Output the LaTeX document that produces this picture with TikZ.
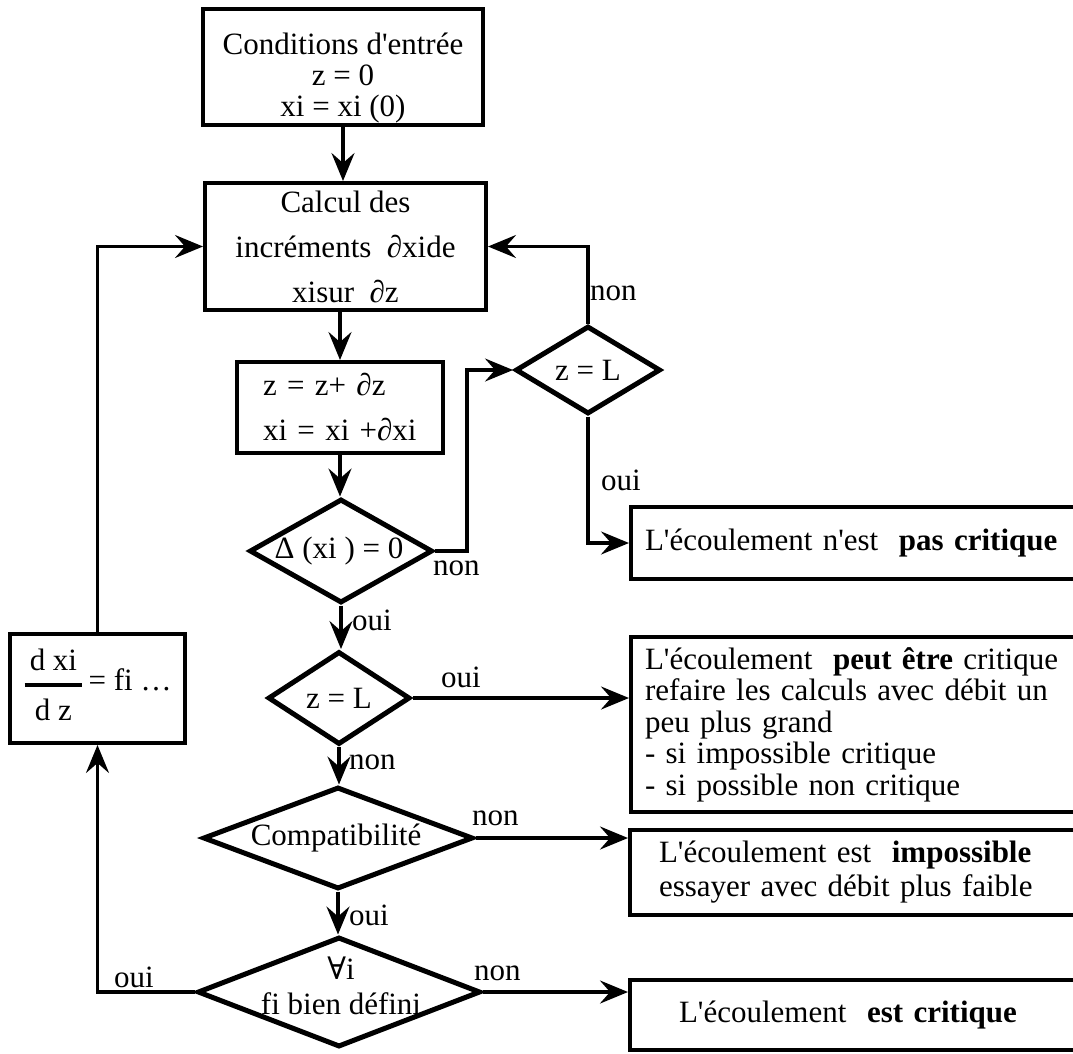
\documentclass[tikz,border=0pt]{standalone}
\usepackage{amsmath}
\usepackage{fontspec}
\setmainfont{Liberation Serif}
\newfontfamily\symfnt{DejaVu Serif}
\usetikzlibrary{shapes.geometric,arrows.meta}
\newcommand\ap{\textquotesingle}
\begin{document}
\begin{tikzpicture}[x=1pt,y=-1pt,
  every node/.style={font=\fontsize{31}{31}\selectfont},
  box/.style={draw,line width=4pt,inner sep=0pt},
  rbox/.style={draw,line width=4pt,anchor=north west,align=left,inner ysep=0pt},
  dia/.style={draw,diamond,line width=5pt,inner sep=0pt},
  lab/.style={anchor=west,inner sep=0pt},
  conn/.style={line width=3.2pt},
  arr/.style={conn,-{Stealth[length=28pt,width=23pt,inset=10pt]}}]
\useasboundingbox (0,0) rectangle (1073,1053);
\clip (0,0) rectangle (1073,1053);

% boxes of the main column
\node[box,minimum width=280pt,minimum height=116pt,align=center,font=\fontsize{31}{31}\selectfont] (b1) at (343,67)
  {\rule{0pt}{44pt}Conditions d\ap entrée\\z = 0\\xi = xi (0)};
\node[box,minimum width=281pt,minimum height=127pt,align=center,font=\fontsize{31}{45}\selectfont] (b2) at (345.5,246.5)
  {Calcul des\\incréments~ ∂xide\\xisur~ ∂z};
\node[box,minimum width=206pt,minimum height=91pt,inner xsep=26pt,text width=154pt,align=left,font=\fontsize{31}{45}\selectfont] (b3) at (340,407.5)
  {z = z+ ∂z\\xi = xi +∂xi};

% decisions
\node[dia,minimum width=145pt,minimum height=88pt] (d1) at (588,370) {};
\node (t1) at (588,370) {z = L};
\node[dia,minimum width=183pt,minimum height=104pt] (dD) at (341,551) {};
\node (tD) at (339,551) {Δ (xi ) = 0};
\node[dia,minimum width=142pt,minimum height=93pt] (d2) at (339,698) {};
\node (t2) at (339,698) {z = L};
\node[dia,minimum width=270pt,minimum height=102pt] (dC) at (338,838) {};
\node (tC) at (336,838) {Compatibilité};
\node[dia,minimum width=283pt,minimum height=110pt] (dA) at (339,992) {};
\node[align=center,font=\fontsize{31}{35}\selectfont] (tA) at (341,986) {{\symfnt ∀}i\\fi bien défini};

% side box
\node[box,minimum width=175pt,minimum height=109pt] (fr) at (97.5,688.5)
  {$\genfrac{}{}{4pt}{0}{\mbox{\,d xi\,}}{\raisebox{8pt}[0pt][0pt]{d z}}$\,= fi …};

% result boxes
\node[rbox,minimum width=451pt,minimum height=72pt,inner xsep=14pt,text width=423pt] (pc) at (629,505)
  {L\ap écoulement n\ap est~ \textbf{pas critique}};
\node[rbox,minimum width=451pt,minimum height=175pt,inner xsep=14pt,text width=423pt,font=\fontsize{31}{31.5}\selectfont] (pe) at (629,635)
  {L\ap écoulement~ \textbf{peut être} critique\\refaire les calculs avec débit un\\peu plus grand\\- si impossible critique\\- si possible non critique};
\node[rbox,minimum width=452pt,minimum height=85pt,inner xsep=29pt,text width=394pt,font=\fontsize{31}{34}\selectfont] (im) at (628,828)
  {L\ap écoulement est~ \textbf{impossible}\\essayer avec débit plus faible};
\node[rbox,minimum width=452pt,minimum height=70pt,inner xsep=49pt,text width=354pt] (ec) at (628,978)
  {L\ap écoulement~ \textbf{est critique}};

% connectors
\draw[arr] (b1.south) -- (b1.south |- b2.north);
\draw[arr] (b3.north |- b2.south) -- (b3.north);
\draw[arr] (b3.south) -- (b3.south |- dD.north);
\draw[arr] (dD.east) -- ++(32,0) |- (d1.west);
\draw[arr] (d1.north) |- (b2.east);
\draw[arr] (d1.south) |- (pc.west);
\draw[arr] (dD.south) -- (dD.south |- d2.north);
\draw[arr] (d2.east) -- (d2.east -| pe.west);
\draw[arr] (d2.south) -- (d2.south |- dC.north);
\draw[arr] (dC.east) -- (dC.east -| im.west);
\draw[arr] (dC.south) -- (dC.south |- dA.north);
\draw[arr] (dA.east) -- (dA.east -| ec.west);
\draw[arr] (dA.west) -| (fr.south);
\draw[arr] (fr.north) |- (b2.west);

% connector labels
\node[lab] (l1) at (590,293) {non};
\node[lab] (l2) at (601,480) {oui};
\node[lab] (l3) at (433,568) {non};
\node[lab] (l4) at (352,620) {oui};
\node[lab] (l5) at (441,677) {oui};
\node[lab] (l6) at (349,762) {non};
\node[lab] (l7) at (472,818) {non};
\node[lab] (l8) at (349,915) {oui};
\node[lab] (l9) at (114,977) {oui};
\node[lab] (l10) at (474,973) {non};
\end{tikzpicture}
\end{document}
